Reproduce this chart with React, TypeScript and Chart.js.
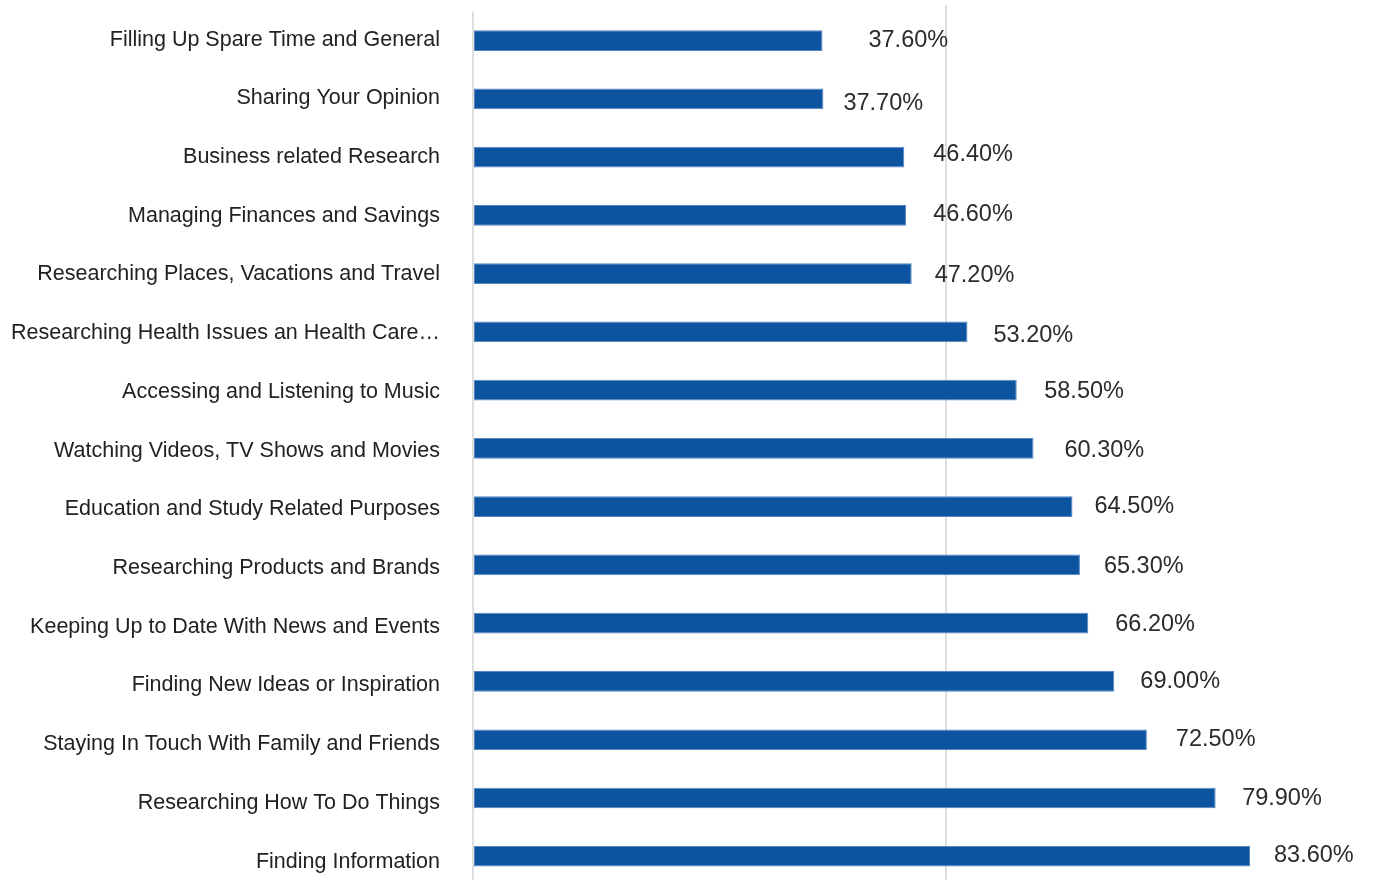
import React, { useEffect, useRef } from "react";
import { Chart, registerables } from "chart.js";

Chart.register(...registerables);

const CATEGORIES = [
  "Filling Up Spare Time and General",
  "Sharing Your Opinion",
  "Business related Research",
  "Managing Finances and Savings",
  "Researching Places, Vacations and Travel",
  "Researching Health Issues an Health Care…",
  "Accessing and Listening to Music",
  "Watching Videos, TV Shows and Movies",
  "Education and Study Related Purposes",
  "Researching Products and Brands",
  "Keeping Up to Date With News and Events",
  "Finding New Ideas or Inspiration",
  "Staying In Touch With Family and Friends",
  "Researching How To Do Things",
  "Finding Information",
];

const VALUES = [37.6, 37.7, 46.4, 46.6, 47.2, 53.2, 58.5, 60.3, 64.5, 65.3, 66.2, 69.0, 72.5, 79.9, 83.6];

// label offsets (px) from the bar end / bar centre, as placed in the reference
const LABEL_DX = [46, 20, 29, 27, 23, 26, 27.5, 31, 22, 24, 27, 26, 29, 26.5, 24];
const LABEL_DY = [-2, 3, -4, -3, 0, 1.5, -1, 0.5, -2, -0.5, -1, -2, -2, -1.5, -3];

const X_MAX = 101.78;

export default function App() {
  const ref = useRef<HTMLCanvasElement>(null);

  useEffect(() => {
    const canvas = ref.current!;
    const valueFont = 23.5;
    const catFont = 21.5;
    const labelsPlugin = {
      id: "labelsPlugin",
      afterDatasetsDraw(chart: any) {
        const ctx = chart.ctx;
        const meta = chart.getDatasetMeta(0);
        const yScale = chart.scales.y;
        const area = chart.chartArea;
        ctx.save();
        // value labels
        ctx.font = `${valueFont}px "Liberation Sans", Arial, sans-serif`;
        ctx.fillStyle = "#2b2b2b";
        ctx.textAlign = "left";
        ctx.textBaseline = "alphabetic";
        const vcap = (valueFont * 0.716) / 2;
        meta.data.forEach((bar: any, i: number) => {
          ctx.fillText(`${VALUES[i].toFixed(2)}%`, bar.x + LABEL_DX[i], bar.y + LABEL_DY[i] + vcap);
        });
        // category labels
        ctx.font = `${catFont}px "Liberation Sans", Arial, sans-serif`;
        ctx.fillStyle = "#222222";
        ctx.textAlign = "right";
        const ccap = (catFont * 0.716) / 2;
        CATEGORIES.forEach((c, i) => {
          const y = yScale.getPixelForValue(i) - 2.7 + i * 0.45;
          ctx.fillText(c, area.left - 33, y + ccap);
        });
        // gridline extension above the plot area at the middle tick
        const xScale = chart.scales.x;
        const gx = Math.round(xScale.getPixelForValue(X_MAX / 2));
        ctx.strokeStyle = "#dfdfdf";
        ctx.lineWidth = 2;
        ctx.beginPath();
        ctx.moveTo(gx, 5);
        ctx.lineTo(gx, area.top);
        ctx.stroke();
        ctx.restore();
      },
    };

    const chart = new Chart(canvas, {
      type: "bar",
      data: {
        labels: CATEGORIES,
        datasets: [
          {
            data: VALUES,
            backgroundColor: "#0d54a0",
            borderColor: "#5586c2",
            borderWidth: 1,
            borderSkipped: false,
            barPercentage: 0.355,
            categoryPercentage: 1,
          },
        ],
      },
      options: {
        indexAxis: "y",
        responsive: false,
        maintainAspectRatio: false,
        animation: false,
        devicePixelRatio: 1,
        layout: { autoPadding: false, padding: { top: 11.4, bottom: 4.6, left: 0, right: 0 } },
        plugins: {
          legend: { display: false },
          tooltip: { enabled: false },
        },
        scales: {
          x: {
            type: "linear",
            min: 0,
            max: X_MAX,
            afterBuildTicks: (scale: any) => {
              scale.ticks = [0, X_MAX / 2, X_MAX].map((v) => ({ value: v }));
            },
            afterFit: (scale: any) => {
              scale.height = 0;
              scale.paddingLeft = 0;
              scale.paddingRight = 0;
            },
            ticks: { display: false },
            grid: { color: "#dfdfdf", lineWidth: 2, drawTicks: false },
            border: { display: false },
          },
          y: {
            type: "category",
            afterFit: (scale: any) => {
              scale.width = 473;
              scale.paddingTop = 0;
              scale.paddingBottom = 0;
            },
            grid: { display: false, drawTicks: false },
            border: { display: false },
            ticks: { display: false },
          },
        },
      },
      plugins: [labelsPlugin],
    } as any);

    return () => chart.destroy();
  }, []);

  return (
    <div
      style={{
        position: "fixed",
        left: 0,
        top: 0,
        width: 1373,
        height: 880,
        overflow: "hidden",
        background: "#ffffff",
      }}
    >
      <canvas ref={ref} width={1419} height={890} style={{ display: "block", width: 1419, height: 890 }} />
    </div>
  );
}
